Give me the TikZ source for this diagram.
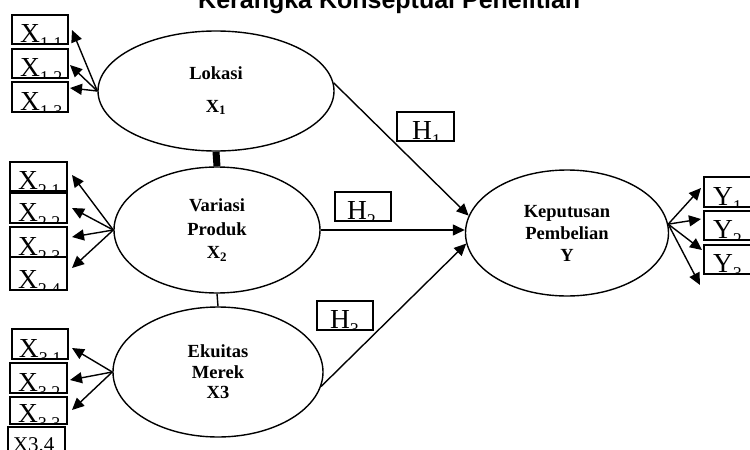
\documentclass[tikz,border=0pt]{standalone}
\usepackage{fontspec}
\setmainfont{Liberation Serif}
\newfontfamily\titlefont{Liberation Sans}
\usetikzlibrary{arrows.meta,shapes.geometric}
\tikzset{intext/.style={draw=none, fill=none, minimum width=0pt, minimum height=0pt,
  inner sep=0pt, outer sep=0pt, anchor=base west}}
\newcommand{\boxtext}[3]{%
  \node[intext, font=\fontsize{27.5}{27.5}\selectfont]
    at ([xshift=#3pt, yshift=1.5pt]path picture bounding box.south west)
    {#1\raisebox{-6.5pt}{\fontsize{18}{18}\selectfont #2}};}
\begin{document}
\begin{tikzpicture}[x=1pt,y=-1pt,
  lat/.style={draw, ellipse, line width=1.4pt, inner sep=0pt, align=center,
    font=\bfseries\fontsize{18.5}{21.5}\selectfont},
  ind/.style={draw, line width=1.5pt, inner sep=0pt, outer sep=0pt, anchor=north west},
  arr/.style={line width=1.4pt, -{Triangle[length=12pt,width=11pt]}},
  link/.style={line width=1.4pt}
]
\useasboundingbox (0,0) rectangle (750,450);

% title
\node[anchor=base west, inner sep=0pt, font=\titlefont\bfseries\fontsize{25}{25}\selectfont]
  (title) at (198,8) {Kerangka Konseptual Penelitian};

% latent variables
\node[lat, minimum width=236pt, minimum height=120pt] (lok) at (216,91)
  {Lokasi\\[11pt]X\textsubscript{1}};
\node[lat, minimum width=206pt, minimum height=126pt] (var) at (217,230)
  {Variasi\\[2pt]Produk\\[2pt]X\textsubscript{2}};
\node[lat, minimum width=210pt, minimum height=130pt] (eku) at (218,372)
  {Ekuitas\\[-1pt]Merek\\[-1pt]X3};
\node[lat, minimum width=203pt, minimum height=126pt] (kep) at (567,233)
  {Keputusan\\[0.5pt]Pembelian\\[0.5pt]Y};

\draw[line width=7pt] (lok.south) -- (var.north);
\draw[link] (var.south) -- (eku.north);

% indicator boxes X1
\node[ind, minimum width=56pt, minimum height=29pt, path picture={\boxtext{X}{1.1}{8}}] (x11) at (12,15) {};
\node[ind, minimum width=56pt, minimum height=29pt, path picture={\boxtext{X}{1.2}{8}}] (x12) at (12,49) {};
\node[ind, minimum width=56pt, minimum height=30pt, path picture={\boxtext{X}{1.3}{8}}] (x13) at (12,82) {};
% X2
\node[ind, minimum width=57pt, minimum height=29pt, path picture={\boxtext{X}{2.1}{8}}] (x21) at (10,162) {};
\node[ind, minimum width=57pt, minimum height=30pt, path picture={\boxtext{X}{2.2}{8}}] (x22) at (10,193) {};
\node[ind, minimum width=57pt, minimum height=30pt, path picture={\boxtext{X}{2.3}{8}}] (x23) at (10,227) {};
\node[ind, minimum width=57pt, minimum height=33pt, path picture={\boxtext{X}{2.4}{8}}] (x24) at (10,257) {};
% X3
\node[ind, minimum width=56pt, minimum height=30pt, path picture={\boxtext{X}{3.1}{7}}] (x31) at (12,329) {};
\node[ind, minimum width=57pt, minimum height=30pt, path picture={\boxtext{X}{3.2}{8}}] (x32) at (10,363) {};
\node[ind, minimum width=57pt, minimum height=27pt, path picture={\boxtext{X}{3.3}{8}}] (x33) at (10,397) {};
\node[ind, minimum width=57pt, minimum height=32pt, path picture={%
  \node[intext, font=\fontsize{21}{21}\selectfont]
   at ([xshift=5pt, yshift=-24pt]path picture bounding box.north west) {X3.4};}] (x34) at (8,427) {};
% Y
\node[ind, minimum width=50pt, minimum height=30pt, path picture={\boxtext{Y}{1}{9}}] (y1) at (704,177) {};
\node[ind, minimum width=50pt, minimum height=29pt, path picture={\boxtext{Y}{2}{9}}] (y2) at (704,211) {};
\node[ind, minimum width=50pt, minimum height=29pt, path picture={\boxtext{Y}{3}{9}}] (y3) at (704,245) {};
% H
\node[ind, minimum width=57pt, minimum height=29pt, path picture={\boxtext{H}{1}{15}}] (h1) at (397,112) {};
\node[ind, minimum width=56pt, minimum height=29pt, path picture={\boxtext{H}{2}{12}}] (h2) at (335,192) {};
\node[ind, minimum width=56pt, minimum height=29pt, path picture={\boxtext{H}{3}{13}}] (h3) at (317,301) {};

% arrow tips
\coordinate (t11) at (72,30);
\coordinate (t12) at (70,65);
\coordinate (t13) at (70,88);
\coordinate (t21) at (72,175);
\coordinate (t22) at (72,208);
\coordinate (t23) at (72,237);
\coordinate (t24) at (72,268);
\coordinate (t31) at (72,348);
\coordinate (t32) at (70,380);
\coordinate (t33) at (72,410);
\coordinate (ty1) at (701,188);
\coordinate (ty2) at (701,219);
\coordinate (ty3) at (702,250);
\coordinate (ty4) at (700,285);

\draw[arr] (lok.west) -- (t11);
\draw[arr] (lok.west) -- (t12);
\draw[arr] (lok.west) -- (t13);
\draw[arr] (var.west) -- (t21);
\draw[arr] (var.west) -- (t22);
\draw[arr] (var.west) -- (t23);
\draw[arr] (var.west) -- (t24);
\draw[arr] (eku.west) -- (t31);
\draw[arr] (eku.west) -- (t32);
\draw[arr] (eku.west) -- (t33);
\draw[arr] (kep.5) -- (ty1);
\draw[arr] (kep.5) -- (ty2);
\draw[arr] (kep.5) -- (ty3);
\draw[arr] (kep.5) -- (ty4);

% structural paths
\draw[arr] (lok.4) -- (kep.170);
\draw[arr] (var.east) -- (var.east -| kep.west);
\draw[arr] (eku.-8) -- (kep.186);
\end{tikzpicture}
\end{document}
